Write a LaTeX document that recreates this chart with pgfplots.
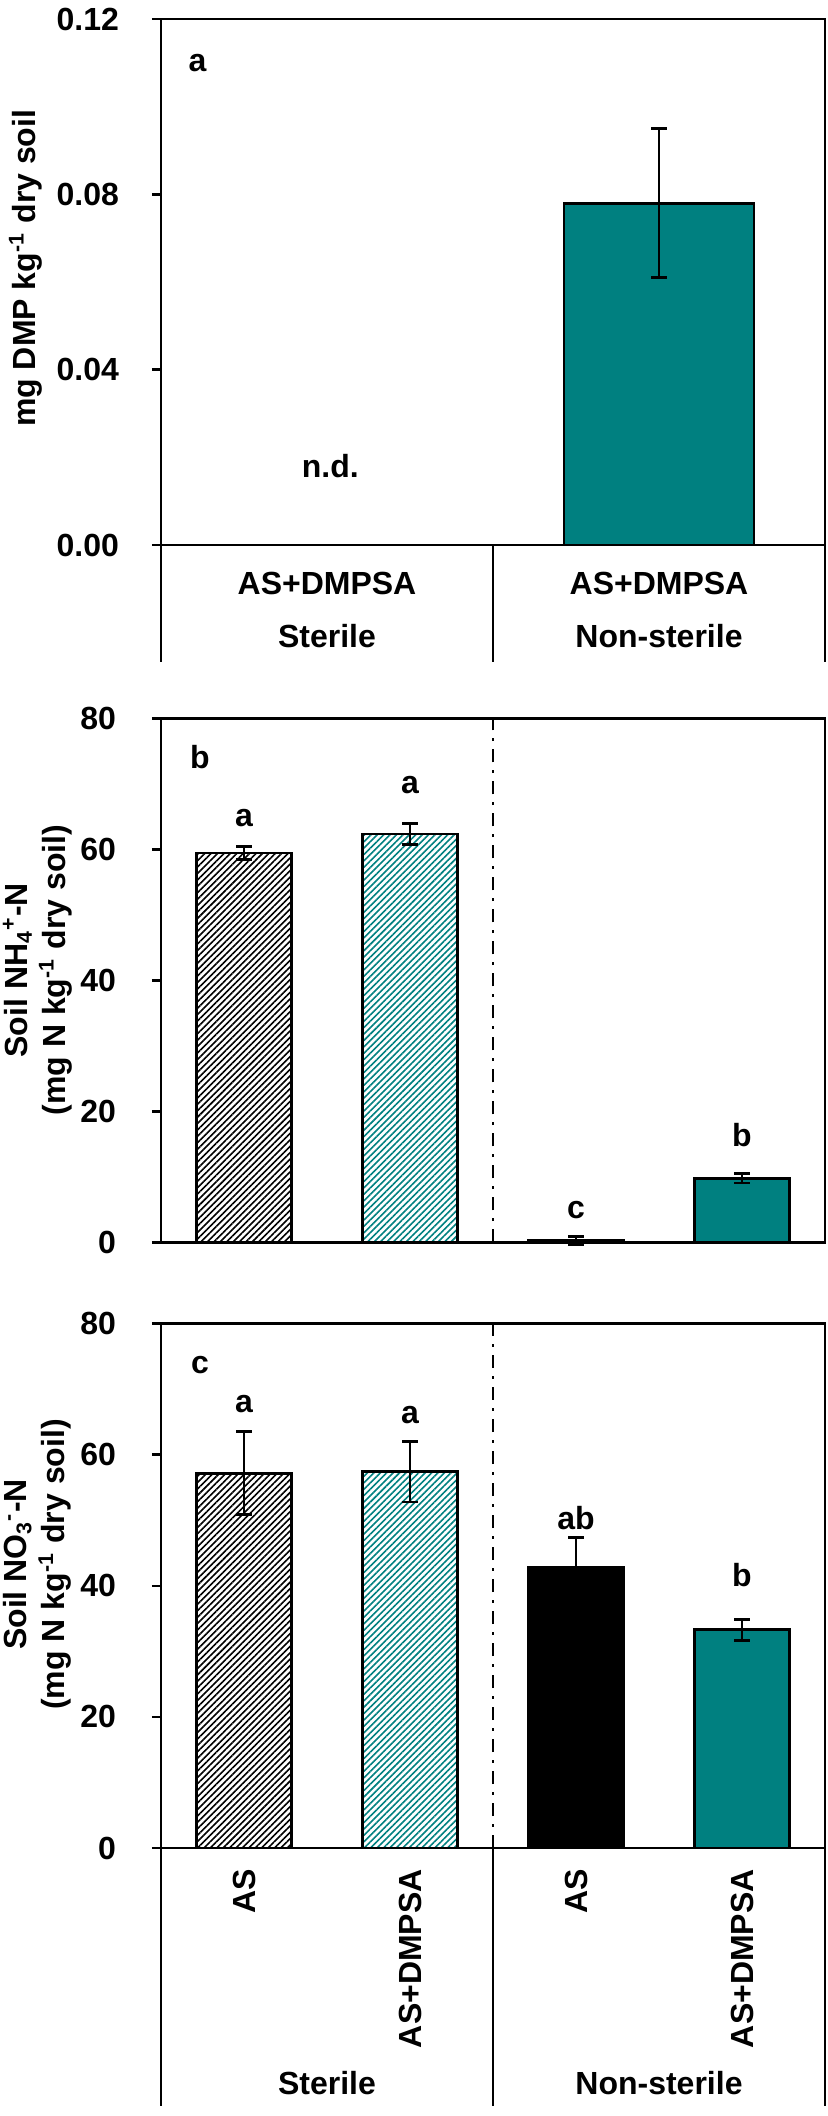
\documentclass[border=0pt]{standalone}
\usepackage{fontspec}
\setmainfont{Liberation Sans}
\usepackage{pgfplots}
\pgfplotsset{compat=1.18}
\usetikzlibrary{patterns.meta}
\definecolor{tealc}{RGB}{0,128,128}

\pgfplotsset{
  panel/.style={
    scale only axis, width=249pt, anchor=south west, xmin=-0.5, clip=false,
    axis line style={line width=1pt},
    every axis/.append style={line width=1pt},
    ytick align=outside, major tick length=3.4pt, ytick pos=left,
    major tick style={line width=1pt, black},
    x tick style={draw=none},
  },
  mybar/.style={ybar, bar width=#1, bar shift=0pt, draw=black, line width=1.1pt},
  hatchK/.style={pattern={Lines[angle=45,distance=1.7pt,line width=0.6pt]}, pattern color=black},
  hatchT/.style={pattern={Lines[angle=45,distance=1.7pt,line width=0.6pt]}, pattern color=tealc},
  ebars/.style={error bars/.cd, y dir=both, y explicit,
    error bar style={line width=1.05pt, black},
    error mark options={rotate=90, mark size=2.9pt, line width=1.05pt, black}},
}

\begin{document}
\fontsize{12}{14.3}\selectfont\bfseries
\begin{tikzpicture}
\useasboundingbox (0,0) rectangle (310.125pt,793.5pt);

% ---------------- panel a ----------------
\begin{axis}[panel, at={(60.375pt,589.125pt)}, height=197.25pt,
  xmax=1.5, ymin=0, ymax=0.12,
  ytick={0,0.04,0.08,0.12}, yticklabels={0.00,0.04,0.08,0.12},
  yticklabel style={xshift=-7.9pt},
  xtick={0,1}, xticklabels={AS+DMPSA,AS+DMPSA},
  xticklabel style={anchor=base, yshift=-18.75pt},
  ylabel={mg DMP kg\textsuperscript{-1} dry soil},
  ylabel style={at={(axis description cs:-0.204,0.526)}, anchor=center,
    font=\fontsize{12}{14.3}\selectfont\bfseries}]
\addplot[mybar=71.25pt, fill=tealc, ebars]
  coordinates {(1,0.078) +- (0,0.017)};
\node at (axis cs:-0.39,0.110) {a};
\node at (axis cs:0.01,0.018) {n.d.};
\draw[line width=1pt] (axis cs:-0.5,0) -- ([yshift=-43.7pt]axis cs:-0.5,0);
\draw[line width=1pt] (axis cs:0.5,0) -- ([yshift=-43.7pt]axis cs:0.5,0);
\draw[line width=1pt] (axis cs:1.5,0) -- ([yshift=-43.7pt]axis cs:1.5,0);
\node[anchor=base] at ([yshift=-38.6pt]axis cs:0,0) {Sterile};
\node[anchor=base] at ([yshift=-38.6pt]axis cs:1,0) {Non-sterile};
\end{axis}

% ---------------- panel b ----------------
\begin{axis}[panel, at={(60.375pt,327.56pt)}, height=196.4pt,
  xmax=3.5, ymin=0, ymax=80,
  ytick={0,20,40,60,80}, yticklabels={0,20,40,60,80},
  yticklabel style={xshift=-9pt},
  xtick=\empty,
  ylabel={Soil NH\textsubscript{4}\textsuperscript{+}-N\\(mg N kg\textsuperscript{-1} dry soil)},
  ylabel style={at={(axis description cs:-0.186,0.52)}, anchor=center, align=center,
    font=\fontsize{12}{14.3}\selectfont\bfseries}]
\addplot[mybar=35.5pt, hatchK, ebars] coordinates {(0,59.5) +- (0,1.0)};
\addplot[mybar=35.5pt, hatchT, ebars] coordinates {(1,62.4) +- (0,1.6)};
\addplot[mybar=35.5pt, fill=black, ebars] coordinates {(2,0.3) +- (0,0.6)};
\addplot[mybar=35.5pt, fill=tealc, ebars] coordinates {(3,9.8) +- (0,0.7)};
\draw[line width=1pt, dash pattern=on 5pt off 3pt on 1pt off 3pt] (axis cs:1.5,0) -- (axis cs:1.5,80);
\node at (axis cs:-0.265,74.2) {b};
\node at (axis cs:0,64.8) {a};
\node at (axis cs:1,69.9) {a};
\node at (axis cs:2,5.0) {c};
\node at (axis cs:3,16.4) {b};
\end{axis}

% ---------------- panel c ----------------
\begin{axis}[panel, at={(60.375pt,100.5pt)}, height=196.6pt,
  xmax=3.5, ymin=0, ymax=80,
  ytick={0,20,40,60,80}, yticklabels={0,20,40,60,80},
  yticklabel style={xshift=-9pt},
  xtick={0,1,2,3}, xticklabels={AS,AS+DMPSA,AS,AS+DMPSA},
  xticklabel style={rotate=90, anchor=east, inner xsep=7.5pt, inner ysep=0pt},
  ylabel={Soil NO\textsubscript{3}\textsuperscript{-}-N\\(mg N kg\textsuperscript{-1} dry soil)},
  ylabel style={at={(axis description cs:-0.186,0.541)}, anchor=center, align=center,
    font=\fontsize{12}{14.3}\selectfont\bfseries}]
\addplot[mybar=35.5pt, hatchK, ebars] coordinates {(0,57.2) +- (0,6.3)};
\addplot[mybar=35.5pt, hatchT, ebars] coordinates {(1,57.4) +- (0,4.6)};
\addplot[mybar=35.5pt, fill=black, ebars] coordinates {(2,42.8) +- (0,4.6)};
\addplot[mybar=35.5pt, fill=tealc, ebars] coordinates {(3,33.3) +- (0,1.6)};
\draw[line width=1pt, dash pattern=on 5pt off 3pt on 1pt off 3pt] (axis cs:1.5,0) -- (axis cs:1.5,80);
\node at (axis cs:-0.265,73.7) {c};
\node at (axis cs:0,67.7) {a};
\node at (axis cs:1,66.1) {a};
\node at (axis cs:2,50.4) {ab};
\node at (axis cs:3,41.7) {b};
\draw[line width=1pt] (axis cs:-0.5,0) -- ([yshift=-96.75pt]axis cs:-0.5,0);
\draw[line width=1pt] (axis cs:1.5,0) -- ([yshift=-96.75pt]axis cs:1.5,0);
\draw[line width=1pt] (axis cs:3.5,0) -- ([yshift=-96.75pt]axis cs:3.5,0);
\node[anchor=base] at ([yshift=-92.6pt]axis cs:0.5,0) {Sterile};
\node[anchor=base] at ([yshift=-92.6pt]axis cs:2.5,0) {Non-sterile};
\end{axis}
\end{tikzpicture}
\end{document}
